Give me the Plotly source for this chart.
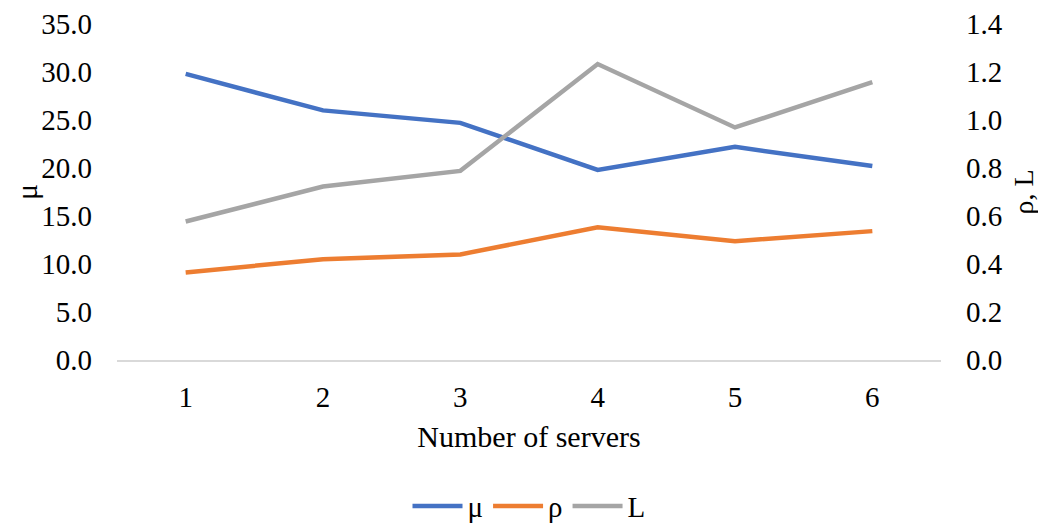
import plotly.graph_objects as go

servers = [1, 2, 3, 4, 5, 6]
mu = [29.8, 26.0, 24.7, 19.8, 22.2, 20.2]
rho = [0.365, 0.42, 0.44, 0.553, 0.495, 0.537]
L = [0.577, 0.723, 0.788, 1.233, 0.969, 1.158]

FONT = "Liberation Serif, Times New Roman, serif"
FS = 29
TS = 30

fig = go.Figure()
fig.add_trace(go.Scatter(x=servers, y=mu, name="μ", mode="lines",
                         line=dict(color="#4472C4", width=4.5)))
fig.add_trace(go.Scatter(x=servers, y=rho, name="ρ", mode="lines", yaxis="y2",
                         line=dict(color="#ED7D31", width=4.5)))
fig.add_trace(go.Scatter(x=servers, y=L, name="L", mode="lines", yaxis="y2",
                         line=dict(color="#A5A5A5", width=4.5)))

fig.update_layout(
    width=1030, height=519,
    margin=dict(l=109, r=97, t=16, b=166.5, autoexpand=False),
    paper_bgcolor="white", plot_bgcolor="white",
    font=dict(family=FONT, size=FS, color="black"),
    showlegend=True,
    legend=dict(orientation="h", x=0.5, xanchor="center", y=-0.435, yanchor="middle",
                font=dict(size=FS), itemwidth=50, tracegroupgap=0),
    xaxis=dict(range=[0.5, 6.5], tickvals=servers, ticktext=[str(s) for s in servers],
               showgrid=False, zeroline=False, showline=True, linecolor="#D9D9D9",
               linewidth=1.5, ticks="", ticklabelstandoff=10, automargin=False,
               title=dict(text="Number of servers", standoff=14, font=dict(size=TS))),
    yaxis=dict(range=[0, 35], dtick=5, tickformat=".1f", showgrid=False, zeroline=False,
               showline=False, ticks="", ticklabelstandoff=24, automargin=False),
    yaxis2=dict(range=[0, 1.4], dtick=0.2, tickformat=".1f", overlaying="y", side="right",
                showgrid=False, zeroline=False, showline=False, ticks="",
                ticklabelstandoff=24, automargin=False),
    annotations=[
        dict(text="μ", xref="paper", yref="paper", x=-0.1104, y=0.5,
             xanchor="center", yanchor="middle", textangle=-90, showarrow=False,
             font=dict(size=TS)),
        dict(text="ρ, L", xref="paper", yref="paper", x=1.1, y=0.5,
             xanchor="center", yanchor="middle", textangle=-90, showarrow=False,
             font=dict(size=28)),
    ],
)

fig.write_html("out.html")
